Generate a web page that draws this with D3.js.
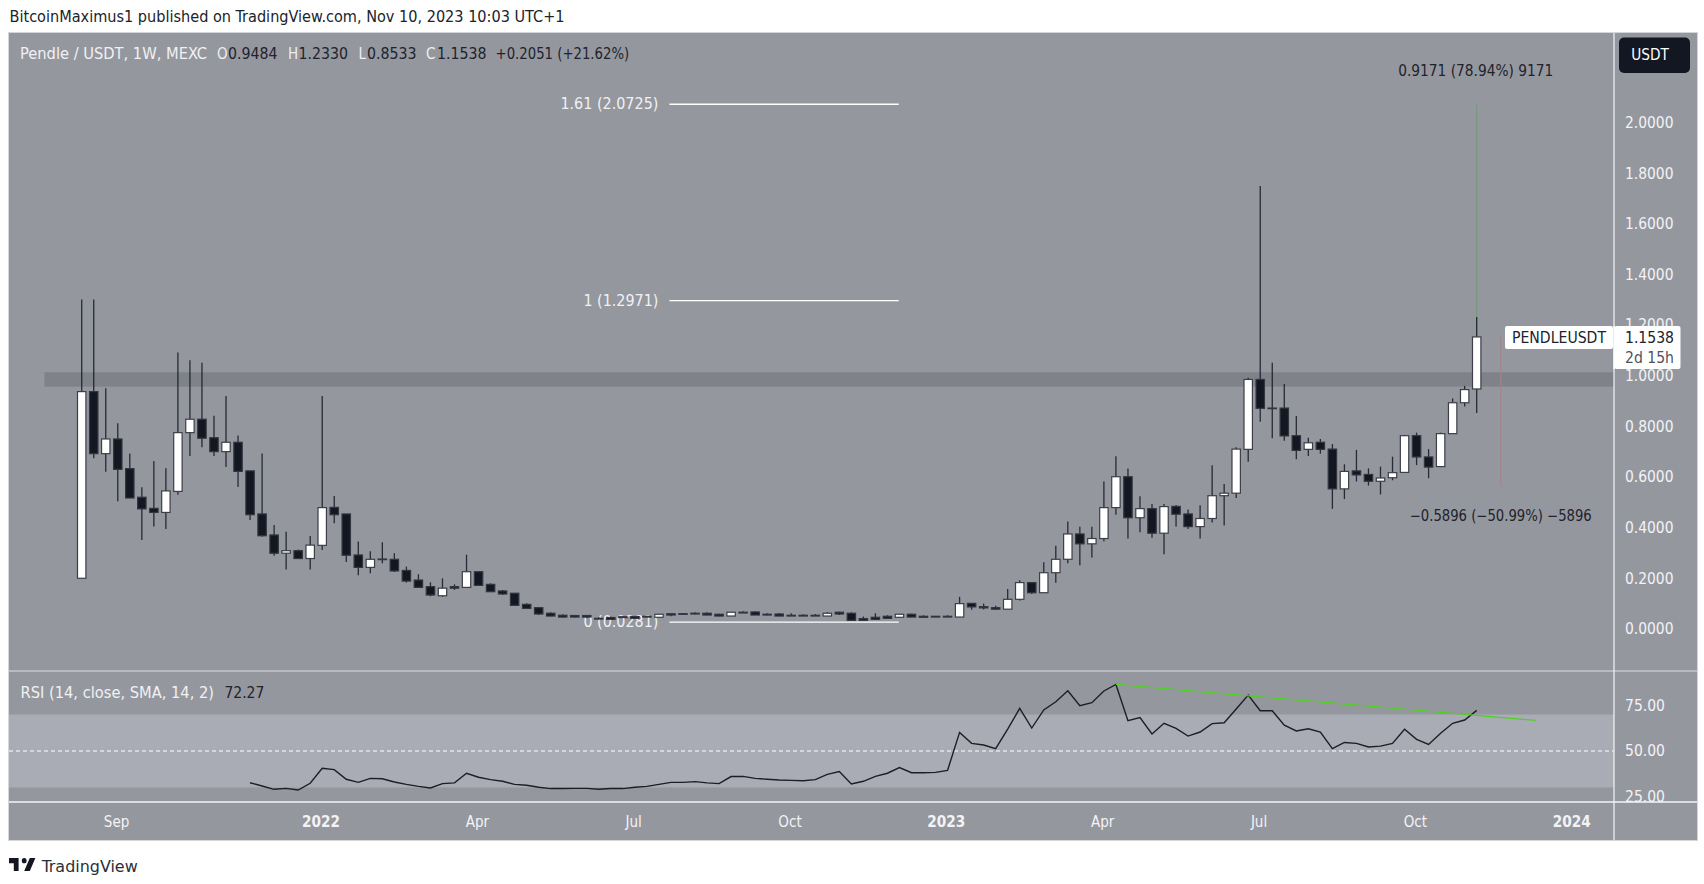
<!DOCTYPE html>
<html><head><meta charset="utf-8">
<script src="https://cdn.jsdelivr.net/npm/d3@7"></script>
<style>html,body{margin:0;padding:0;background:#fff}svg{display:block}text{font-family:"DejaVu Sans Condensed","DejaVu Sans",sans-serif;font-stretch:condensed}</style>
</head><body><div id="c"></div>
<script>
const opens=[.201,.938,.693,.751,.634,.521,.477,.461,.544,.776,.829,.756,.701,.738,.625,.455,.372,.300,.310,.279,.331,.481,.455,.293,.244,.277,.276,.232,.194,.168,.132,.168,.165,.227,.177,.151,.142,.098,.085,.063,.055,.054,.054,.043,.046,.049,.050,.051,.047,.061,.061,.063,.063,.059,.052,.067,.068,.059,.060,.055,.055,.055,.052,.067,.063,.042,.047,.051,.047,.059,.051,.051,.051,.048,.102,.089,.085,.079,.118,.184,.144,.223,.276,.376,.337,.358,.480,.602,.440,.476,.379,.485,.455,.405,.437,.527,.537,.710,.986,.873,.873,.764,.710,.738,.711,.554,.625,.611,.584,.598,.619,.764,.680,.642,.772,.894,.9484];
const closes=[.938,.693,.751,.631,.518,.475,.461,.546,.776,.829,.754,.701,.738,.623,.452,.369,.300,.310,.279,.332,.480,.452,.292,.244,.276,.275,.230,.190,.165,.135,.162,.162,.227,.173,.148,.139,.094,.082,.060,.052,.048,.048,.048,.040,.039,.046,.043,.048,.059,.056,.060,.060,.056,.052,.067,.064,.056,.056,.052,.052,.052,.052,.063,.060,.035,.035,.039,.043,.059,.048,.047,.048,.048,.101,.088,.084,.079,.118,.184,.144,.223,.276,.376,.337,.358,.480,.602,.440,.476,.379,.484,.454,.405,.437,.527,.537,.711,.986,.872,.871,.763,.706,.736,.710,.554,.623,.609,.584,.597,.618,.764,.680,.640,.772,.894,.946,1.1538];
const highs=[1.302,1.302,.951,.813,.694,.560,.664,.635,1.092,1.062,1.052,.843,.921,.765,.625,.694,.411,.385,.315,.368,.921,.526,.455,.346,.308,.343,.300,.247,.217,.185,.201,.177,.294,.227,.181,.155,.142,.102,.086,.067,.059,.055,.054,.047,.050,.051,.050,.051,.059,.061,.062,.067,.067,.061,.067,.071,.071,.063,.064,.063,.059,.060,.067,.069,.067,.050,.063,.055,.060,.061,.055,.051,.055,.128,.103,.101,.093,.159,.193,.184,.264,.329,.425,.404,.404,.583,.683,.634,.525,.494,.494,.490,.473,.489,.647,.573,.718,.993,1.750,1.052,.968,.842,.756,.751,.731,.651,.708,.635,.642,.681,.767,.776,.711,.776,.911,.960,1.233];
const lows=[.201,.675,.622,.505,.518,.352,.405,.396,.531,.684,.718,.684,.640,.561,.431,.365,.290,.236,.279,.236,.313,.418,.265,.213,.221,.260,.226,.184,.165,.130,.128,.155,.165,.172,.148,.135,.094,.082,.056,.051,.046,.047,.043,.039,.038,.045,.043,.047,.047,.051,.059,.059,.056,.051,.052,.064,.056,.055,.051,.052,.052,.052,.051,.056,.035,.034,.038,.043,.046,.047,.047,.048,.048,.048,.077,.078,.079,.079,.113,.139,.144,.183,.260,.252,.283,.347,.452,.358,.383,.361,.296,.405,.396,.358,.421,.409,.518,.661,.819,.754,.744,.671,.684,.693,.475,.514,.583,.567,.532,.588,.618,.648,.596,.640,.772,.879,.8533];
const rsiStart=14;
const rsiValues=[32.6,30.8,29,29.5,28.6,32.3,40.5,39.8,34.5,32.8,35,34.8,33,31.7,30.6,29.7,32.1,32.5,37.8,35.6,34.3,33.4,31.7,31.2,30.1,29.4,29.4,29.5,29.5,29,29.4,29.4,30.1,30.6,31.7,32.8,32.8,33.2,32.5,32.1,36,36.1,35,34.5,34.1,33.9,33.7,34.3,37.2,38.7,31.9,33.4,36.1,37.8,40.9,38.1,38.1,38.3,39.4,60.2,54.2,53.3,51.3,62,73.4,62.6,72.5,77,83,74.8,76.5,82.9,86.5,66.6,68.3,59.3,65.2,62.4,58.2,60.4,65,65.5,73,80.7,72.1,72.1,64.2,61,62.2,60.4,51.3,54.7,54.2,52.2,52.7,54.2,61.9,56.4,53.6,59.7,65.2,67,72.27];
const priceTicks=[0,.2,.4,.6,.8,1,1.2,1.4,1.6,1.8,2];
const rsiTicks=[25,50,75];
const timeWeeks=[2.9,19.9,32.9,45.9,58.9,71.9,84.9,97.9,110.9,123.9];
const timeLabels=["Sep","2022","Apr","Jul","Oct","2023","Apr","Jul","Oct","2024"];
const boldLabels=["2022","2023","2024"];
const fibLevels=[2.0725,1.2971,.0281];
const fibNames=["1.61 (2.0725)","1 (1.2971)","0 (0.0281)"];
const fibWeeks=[48.87,67.94];
const zoneBand=[.9575,1.0145];
const zoneStartWeek=-3.1;
const trendWeeks=[86,120.9];
const trendValues=[86.5,66.8];
const measureUp={week:116,from:1.1538,to:2.0709,label:"0.9171 (78.94%) 9171"};
const measureDown={week:118,from:1.1538,to:.5642,label:"\u22120.5896 (\u221250.99%) \u22125896"};

const W=1704,H=884;
const L=9,T=33,PR=1614,R=1697,B=840,SEP=671,RB=802;
const svg=d3.select("#c").append("svg").attr("width",W).attr("height",H);
const x=d3.scaleLinear().domain([0,116]).range([81.7,1476.7]);
const y=d3.scaleLinear().domain([0,1]).range([629.2,375.9]);
const r=d3.scaleLinear().domain([50,75]).range([751,705.4]);
const ink="#131722",axisInk="#f2f3f5",bg="#95979f",darkText="#20232c",FS=15;

// every label: real text, fitted to the width it has in the picture
function label(px,py,t,color,len,anchor,weight,size){
  const n=svg.append("text").attr("x",px).attr("y",py).attr("dy","0.35em").attr("font-size",size||FS).attr("fill",color).text(t);
  if(anchor)n.attr("text-anchor",anchor);
  if(weight)n.attr("font-weight",weight);
  if(len)n.attr("textLength",len).attr("lengthAdjust","spacingAndGlyphs");
  return n;
}

svg.append("rect").attr("x",L-.5).attr("y",T-.5).attr("width",R-L+1).attr("height",B-T+1).attr("fill",bg).attr("stroke","#d4d6db");
svg.append("defs").append("clipPath").attr("id","rsiClip").append("rect").attr("x",L).attr("y",SEP).attr("width",R-L).attr("height",RB-SEP);

// zone
svg.append("rect").attr("x",x(zoneStartWeek)).attr("width",PR-x(zoneStartWeek)).attr("y",y(zoneBand[1])).attr("height",y(zoneBand[0])-y(zoneBand[1])).attr("fill","#80828a");

// fib
svg.append("g").selectAll("line").data(fibLevels).join("line").attr("x1",x(fibWeeks[0])).attr("x2",x(fibWeeks[1])).attr("y1",d=>y(d)).attr("y2",d=>y(d)).attr("stroke","#fff").attr("stroke-width",1.4);
const fibLens=[98,75,75];
fibNames.forEach((t,i)=>label(x(fibWeeks[0])-11,y(fibLevels[i]),t,"#f0f1f3",fibLens[i],"end"));

// measure lines
svg.append("line").attr("x1",x(measureUp.week)).attr("x2",x(measureUp.week)).attr("y1",y(measureUp.to)).attr("y2",y(measureUp.from)).attr("stroke","#6f9a78").attr("stroke-width",1);
svg.append("line").attr("x1",x(measureDown.week)).attr("x2",x(measureDown.week)).attr("y1",y(measureDown.from)).attr("y2",y(measureDown.to)).attr("stroke","#a87f8a").attr("stroke-width",1);
label(x(measureUp.week)-1,71,measureUp.label,darkText,155,"middle");
label(x(measureDown.week),515.7,measureDown.label,darkText,182,"middle");

// candles
const idx=d3.range(opens.length);
const cg=svg.append("g");
cg.selectAll("line").data(idx).join("line").attr("x1",i=>x(i)).attr("x2",i=>x(i)).attr("y1",i=>y(highs[i])).attr("y2",i=>y(lows[i])).attr("stroke",ink).attr("stroke-opacity",.85).attr("stroke-width",1.3);
cg.selectAll("rect").data(idx).join("rect").attr("x",i=>x(i)-4.2).attr("width",8.4)
  .attr("y",i=>y(Math.max(opens[i],closes[i]))).attr("height",i=>Math.max(.6,Math.abs(y(opens[i])-y(closes[i]))))
  .attr("fill",i=>closes[i]>=opens[i]?"#fff":ink).attr("stroke",i=>closes[i]>=opens[i]?"#3c3e48":"#33353f").attr("stroke-width",1.2);

// main legend
label(20,54,"Pendle / USDT, 1W, MEXC","#f0f1f3",187);
[["O","0.9484",217,228],["H","1.2330",288,298.5],["L","0.8533",358.6,367],["C","1.1538",426,437]].forEach(a=>{label(a[2],54,a[0],"#eceef1");label(a[3],54,a[1],darkText,49.5);});
label(495.6,54,"+0.2051 (+21.62%)",darkText,133.6);

// price axis
priceTicks.forEach(d=>label(1625,y(d),d.toFixed(4),axisInk,48.5));

// USDT button
svg.append("rect").attr("x",1619).attr("y",37.5).attr("width",71).attr("height",35.5).attr("rx",5).attr("fill",ink);
label(1650,55,"USDT","#fff",37.6,"middle");

// last price labels
svg.append("rect").attr("x",1505).attr("y",326).attr("width",108).attr("height",23).attr("rx",2).attr("fill","#fff");
label(1559,337.5,"PENDLEUSDT",darkText,94,"middle");
svg.append("rect").attr("x",1614.5).attr("y",326).attr("width",66).attr("height",43).attr("rx",2).attr("fill","#fff");
label(1625,337.5,closes[closes.length-1].toFixed(4),darkText,49);
label(1625,358,"2d 15h","#50535e",49);

// RSI panel
const rg=svg.append("g").attr("clip-path","url(#rsiClip)");
rg.append("rect").attr("x",L).attr("width",PR-L).attr("y",r(70)).attr("height",r(30)-r(70)).attr("fill","#aaacb5");
rg.append("line").attr("x1",L).attr("x2",PR).attr("y1",r(50)).attr("y2",r(50)).attr("stroke","#fff").attr("stroke-width",1.2).attr("stroke-dasharray","4 3");
const rsiLine=d3.line().x((d,i)=>x(i+rsiStart)).y(d=>r(d));
rg.append("path").attr("d",rsiLine(rsiValues)).attr("fill","none").attr("stroke","#1c1e26").attr("stroke-width",1.4);
rg.append("line").attr("x1",x(trendWeeks[0])).attr("x2",x(trendWeeks[1])).attr("y1",r(trendValues[0])).attr("y2",r(trendValues[1])).attr("stroke","#4fd11f").attr("stroke-width",1.3);
rg.append("g").selectAll("text").data(rsiTicks).join("text").attr("x",1625).attr("y",d=>r(d)).attr("dy","0.35em").attr("font-size",FS).attr("fill",axisInk).attr("textLength",40).attr("lengthAdjust","spacingAndGlyphs").text(d=>d.toFixed(2));
label(20.5,693,"RSI (14, close, SMA, 14, 2)","#f0f1f3",193.5);
label(224.4,693,rsiValues[rsiValues.length-1].toFixed(2),darkText,40);

// frame lines
svg.append("line").attr("x1",L).attr("x2",R).attr("y1",SEP).attr("y2",SEP).attr("stroke","#c4c6cc").attr("stroke-width",1.6);
svg.append("line").attr("x1",L).attr("x2",R).attr("y1",RB).attr("y2",RB).attr("stroke","#f4f5f7").attr("stroke-width",1.4);
svg.append("line").attr("x1",PR).attr("x2",PR).attr("y1",T).attr("y2",B).attr("stroke","#f4f5f7").attr("stroke-width",1.2);
svg.append("rect").attr("x",1613.4).attr("y",326).attr("width",1.6).attr("height",43).attr("fill","#fff");

// time axis
timeWeeks.forEach((d,i)=>{const b=boldLabels.includes(timeLabels[i]);label(x(d),821.7,timeLabels[i],axisInk,b?38:null,"middle",b?700:400);});

// header and footer
label(9.5,17,"BitcoinMaximus1 published on TradingView.com, Nov 10, 2023 10:03 UTC+1",darkText,555);
svg.append("path").attr("transform","translate(7.4,852.8) scale(.8,.87)").attr("d","M14 6H2v6h6v9h6V6zm14 15h-7l7-15h7l-7 15zm-7-9a3 3 0 1 0 0-6 3 3 0 0 0 0 6z").attr("fill",ink);
label(41.7,866,"TradingView","#2a2e39",96,null,null,16);
</script></body></html>
